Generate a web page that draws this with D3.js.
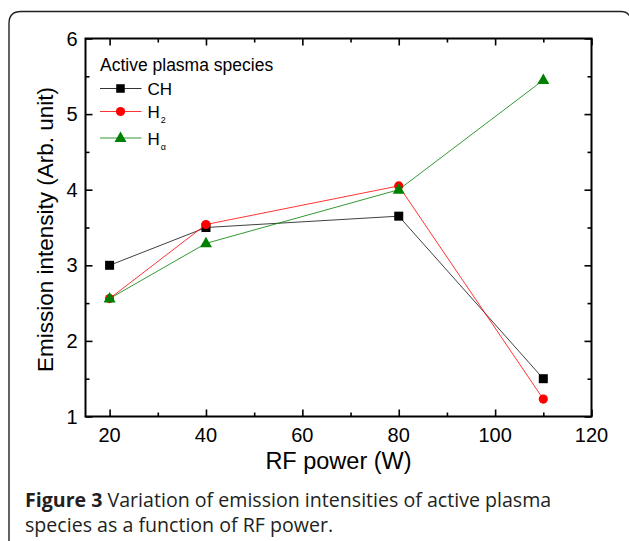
<!DOCTYPE html>
<html>
<head>
<meta charset="utf-8">
<script src="https://cdn.jsdelivr.net/npm/d3@7"></script>
<style>
  html, body { margin: 0; padding: 0; background: #fff; }
  svg { display: block; }
</style>
</head>
<body>
<svg id="chart" width="629" height="541"></svg>
<script>
// ---- data ----
const rfPower = [20, 40, 80, 110];
const chValues = [3.0, 3.5, 3.65, 1.5];
const h2Values = [2.56, 3.54, 4.05, 1.23];
const hAlphaValues = [2.56, 3.29, 4.0, 5.45];
const xTicks = [20, 40, 60, 80, 100, 120];
const yTicks = [1, 2, 3, 4, 5, 6];
const xMinorTicks = [30, 50, 70, 90, 110];
const yMinorTicks = [1.5, 2.5, 3.5, 4.5, 5.5];
const legendTitle = "Active plasma species";
const xTitle = "RF power (W)";
const yTitle = "Emission intensity (Arb. unit)";
const captionBold = "Figure 3";
const captionLine1 = " Variation of emission intensities of active plasma";
const captionLine2 = "species as a function of RF power.";

const series = [
  { name: "CH", sub: "", values: chValues, color: "#000000", marker: "square" },
  { name: "H", sub: "2", values: h2Values, color: "#ff0000", marker: "circle" },
  { name: "H", sub: "\u03b1", values: hAlphaValues, color: "#008000", marker: "triangle" }
];

const svg = d3.select("#chart");
const m = { left: 85.5, right: 591.5, top: 38.5, bottom: 416.5 };

const x = d3.scaleLinear().domain([15, 120]).range([m.left, m.right]);
const y = d3.scaleLinear().domain([1, 6]).range([m.bottom, m.top]);

// frame
const fx = 9, fy = 11.5, r = 12;
svg.append("path")
  .attr("d", `M${fx},560 L${fx},${fy + r} Q${fx},${fy} ${fx + r},${fy} L${621},${fy} Q${629},${fy} ${631},${fy + 8} L631,560`)
  .attr("fill", "none").attr("stroke", "#231f20").attr("stroke-width", 1.4);

const sans = "Liberation Sans, Arial, sans-serif";

// axes with inward ticks
const axisG = svg.append("g");
axisG.append("g").attr("transform", `translate(0,${m.bottom})`)
  .call(d3.axisBottom(x).tickValues(xTicks).tickSizeInner(-7).tickSizeOuter(0).tickFormat(""));
axisG.append("g").attr("transform", `translate(0,${m.bottom})`)
  .call(d3.axisBottom(x).tickValues(xMinorTicks).tickSizeInner(-4).tickSizeOuter(0).tickFormat(""));
axisG.append("g").attr("transform", `translate(0,${m.top})`)
  .call(d3.axisTop(x).tickValues(xTicks).tickSizeInner(-7).tickSizeOuter(0).tickFormat(""));
axisG.append("g").attr("transform", `translate(0,${m.top})`)
  .call(d3.axisTop(x).tickValues(xMinorTicks).tickSizeInner(-4).tickSizeOuter(0).tickFormat(""));
axisG.append("g").attr("transform", `translate(${m.left},0)`)
  .call(d3.axisLeft(y).tickValues(yTicks).tickSizeInner(-7).tickSizeOuter(0).tickFormat(""));
axisG.append("g").attr("transform", `translate(${m.left},0)`)
  .call(d3.axisLeft(y).tickValues(yMinorTicks).tickSizeInner(-4).tickSizeOuter(0).tickFormat(""));
axisG.append("g").attr("transform", `translate(${m.right},0)`)
  .call(d3.axisRight(y).tickValues(yTicks).tickSizeInner(-7).tickSizeOuter(0).tickFormat(""));
axisG.append("g").attr("transform", `translate(${m.right},0)`)
  .call(d3.axisRight(y).tickValues(yMinorTicks).tickSizeInner(-4).tickSizeOuter(0).tickFormat(""));
axisG.selectAll(".domain").remove();
axisG.selectAll(".tick line").attr("stroke", "#000").attr("stroke-width", 1.6);

svg.append("rect")
  .attr("x", m.left).attr("y", m.top)
  .attr("width", m.right - m.left).attr("height", m.bottom - m.top)
  .attr("fill", "none").attr("stroke", "#000").attr("stroke-width", 2);

// tick labels
svg.append("g").selectAll("text").data(xTicks).join("text")
  .attr("x", d => x(d)).attr("y", 441.5)
  .attr("text-anchor", "middle")
  .attr("font-family", sans).attr("font-size", 20).attr("fill", "#000")
  .text(d => d);
svg.append("g").selectAll("text").data(yTicks).join("text")
  .attr("x", 77.5).attr("y", d => y(d) + 7)
  .attr("text-anchor", "end")
  .attr("font-family", sans).attr("font-size", 20).attr("fill", "#000")
  .text(d => d);

// axis titles
svg.append("text")
  .attr("x", (m.left + m.right) / 2).attr("y", 469)
  .attr("text-anchor", "middle")
  .attr("font-family", sans).attr("font-size", 23.5).attr("fill", "#000")
  .text(xTitle);
svg.append("text")
  .attr("transform", `translate(53,${(m.top + m.bottom) / 2 + 2}) rotate(-90)`)
  .attr("text-anchor", "middle")
  .attr("font-family", sans).attr("font-size", 22.5).attr("fill", "#000")
  .text(yTitle);

// markers
function drawMarker(g, type, cx, cy, color, scale) {
  const s = scale || 1;
  if (type === "square") {
    g.append("rect").attr("x", cx - 4.5 * s).attr("y", cy - 4.5 * s)
      .attr("width", 9 * s).attr("height", 9 * s).attr("fill", color);
  } else if (type === "circle") {
    g.append("circle").attr("cx", cx).attr("cy", cy).attr("r", 4.6 * s).attr("fill", color);
  } else {
    const h = 10.5 * s, w = 12 * s;
    g.append("path")
      .attr("d", `M${cx},${cy - h * 0.62} L${cx + w / 2},${cy + h * 0.38} L${cx - w / 2},${cy + h * 0.38} Z`)
      .attr("fill", color);
  }
}

const line = d3.line().x(d => x(d[0])).y(d => y(d[1]));
series.forEach(s => {
  const pts = rfPower.map((p, i) => [p, s.values[i]]);
  const g = svg.append("g");
  g.append("path").attr("d", line(pts))
    .attr("fill", "none").attr("stroke", s.color).attr("stroke-width", 1)
    .attr("stroke-opacity", s.marker === "square" ? 0.75 : 0.8);
  pts.forEach(p => drawMarker(g, s.marker, x(p[0]), y(p[1]), s.color));
});

// legend
const lg = svg.append("g");
lg.append("text").attr("x", 100).attr("y", 71)
  .attr("font-family", sans).attr("font-size", 17.5).attr("fill", "#000")
  .text(legendTitle);
const rowY = [88.5, 111.5, 138];
series.forEach((s, i) => {
  const ry = rowY[i];
  lg.append("line").attr("x1", 100).attr("x2", 141.5).attr("y1", ry).attr("y2", ry)
    .attr("stroke", s.color).attr("stroke-width", 1).attr("stroke-opacity", 0.8);
  drawMarker(lg, s.marker, 120.5, ry, s.color, s.marker === "square" ? 0.95 : 1);
  const t = lg.append("text").attr("x", 147.5).attr("y", ry + 6.5)
    .attr("font-family", sans).attr("font-size", 17).attr("fill", "#000");
  t.append("tspan").text(s.name);
  if (s.sub) {
    t.append("tspan").attr("dx", 1).attr("dy", 5).attr("font-size", 9).text(s.sub);
  }
});

// caption
const capFont = "'Open Sans', 'Noto Sans', sans-serif";
const c1 = svg.append("text").attr("x", 25).attr("y", 506.5)
  .attr("font-family", capFont).attr("font-size", 19.6).attr("fill", "#231f20");
c1.append("tspan").attr("font-weight", "bold").text(captionBold);
c1.append("tspan").text(captionLine1);
svg.append("text").attr("x", 25).attr("y", 531.5)
  .attr("font-family", capFont).attr("font-size", 19.6).attr("fill", "#231f20")
  .text(captionLine2);
</script>
</body>
</html>
